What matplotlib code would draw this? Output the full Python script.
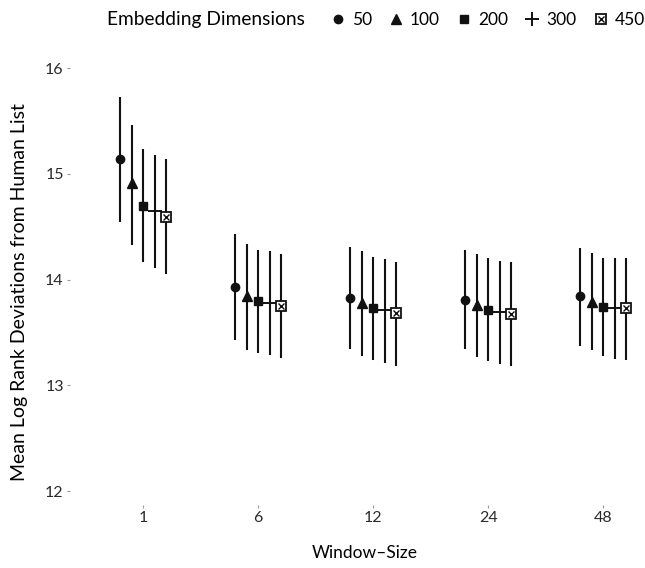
import numpy as np
import matplotlib
matplotlib.use("Agg")
import matplotlib.pyplot as plt
from matplotlib.lines import Line2D
from matplotlib.legend_handler import HandlerTuple

# Window sizes on the x axis (categorical)
windows = ["1", "6", "12", "24", "48"]
dims = ["50", "100", "200", "300", "450"]

# Mean log rank deviation, one list per embedding dimension (across windows)
mean_50 = [15.14, 13.93, 13.83, 13.81, 13.84]
mean_100 = [14.91, 13.84, 13.78, 13.76, 13.79]
mean_200 = [14.70, 13.80, 13.73, 13.71, 13.74]
mean_300 = [14.65, 13.78, 13.71, 13.69, 13.73]
mean_450 = [14.59, 13.75, 13.68, 13.67, 13.73]

# Lower / upper ends of the error bars
lo_50 = [14.54, 13.43, 13.34, 13.34, 13.37]
lo_100 = [14.33, 13.33, 13.28, 13.27, 13.33]
lo_200 = [14.17, 13.31, 13.24, 13.23, 13.28]
lo_300 = [14.11, 13.29, 13.21, 13.20, 13.25]
lo_450 = [14.05, 13.26, 13.18, 13.18, 13.24]

hi_50 = [15.73, 14.43, 14.31, 14.28, 14.30]
hi_100 = [15.46, 14.34, 14.27, 14.24, 14.25]
hi_200 = [15.23, 14.28, 14.21, 14.20, 14.20]
hi_300 = [15.18, 14.27, 14.19, 14.18, 14.20]
hi_450 = [15.14, 14.24, 14.17, 14.17, 14.20]

means = [mean_50, mean_100, mean_200, mean_300, mean_450]
lows = [lo_50, lo_100, lo_200, lo_300, lo_450]
highs = [hi_50, hi_100, hi_200, hi_300, hi_450]

plt.rcParams["font.family"] = ["Lato", "DejaVu Sans"]

fig = plt.figure(figsize=(6.45, 5.68), dpi=100)
W, H = 645, 568
px_left, px_right, px_top, px_bottom = 70, 640, 60, 505
ax = fig.add_axes([px_left / W, 1 - px_bottom / H,
                   (px_right - px_left) / W, (px_bottom - px_top) / H])

ink = "#111111"
offsets = [-0.2, -0.1, 0.0, 0.1, 0.2]
xbase = np.arange(len(windows))

for i in range(len(dims)):
    x = xbase + offsets[i]
    m = np.array(means[i])
    lo = np.array(lows[i])
    hi = np.array(highs[i])
    ax.vlines(x, lo, hi, color=ink, lw=1.5, zorder=2)
    if i == 0:
        ax.plot(x, m, "o", ms=6, color=ink, zorder=3, ls="none")
    elif i == 1:
        ax.plot(x, m, "^", ms=7, color=ink, zorder=3, ls="none")
    elif i == 2:
        ax.plot(x, m, "s", ms=6, color=ink, zorder=3, ls="none")
    elif i == 3:
        ax.plot(x, m, "+", ms=10, mew=1.4, color=ink, zorder=3, ls="none")
    else:
        ax.plot(x, m, "s", ms=7, mfc="white", mec=ink, mew=1.3, zorder=3, ls="none")
        ax.plot(x, m, "x", ms=4, mew=1.0, color=ink, zorder=4, ls="none")

# Axes styling: no grid, no frame
for s in ax.spines.values():
    s.set_visible(False)
ax.set_xlim(-0.635, 4.32)
ax.set_ylim(11.868, 16.076)
ax.set_xticks(xbase)
ax.set_xticklabels(windows)
ax.set_yticks([12, 13, 14, 15, 16])
ax.tick_params(axis="both", colors="#999999", labelcolor="#2a2a2a",
               labelsize=11.5, length=2.5, width=0.8, pad=2)
ax.set_xlabel("Window\u2013Size", fontsize=12.5, color="black")
ax.set_ylabel("Mean Log Rank Deviations from Human List", fontsize=14,
              color="black")
ax.xaxis.set_label_coords((365 - px_left) / (px_right - px_left),
                          -(553 - px_bottom) / (px_bottom - px_top))
ax.xaxis.label.set_va("center")
ax.yaxis.set_label_coords(-(px_left - 20) / (px_right - px_left),
                          (px_bottom - 292) / (px_bottom - px_top))
ax.yaxis.label.set_va("center")

# Legend across the top
fig.text(107 / W, 1 - 20 / H, "Embedding Dimensions", fontsize=13.8,
         va="center", ha="left")
handles = [
    Line2D([], [], marker="o", ms=6, color=ink, ls="none"),
    Line2D([], [], marker="^", ms=7, color=ink, ls="none"),
    Line2D([], [], marker="s", ms=6, color=ink, ls="none"),
    Line2D([], [], marker="+", ms=10, mew=1.4, color=ink, ls="none"),
    (Line2D([], [], marker="s", ms=7, mfc="white", mec=ink, mew=1.3, ls="none"),
     Line2D([], [], marker="x", ms=4, mew=1.0, color=ink, ls="none")),
]
fig.legend(handles, dims, loc="center left", bbox_to_anchor=(329 / W, 1 - 20 / H),
           ncol=5, frameon=False, fontsize=12.5, handlelength=1.0,
           handletextpad=0.3, columnspacing=0.9, borderpad=0, borderaxespad=0,
           handler_map={tuple: HandlerTuple(ndivide=1, pad=0)})

fig.savefig("out.png", dpi=100)
